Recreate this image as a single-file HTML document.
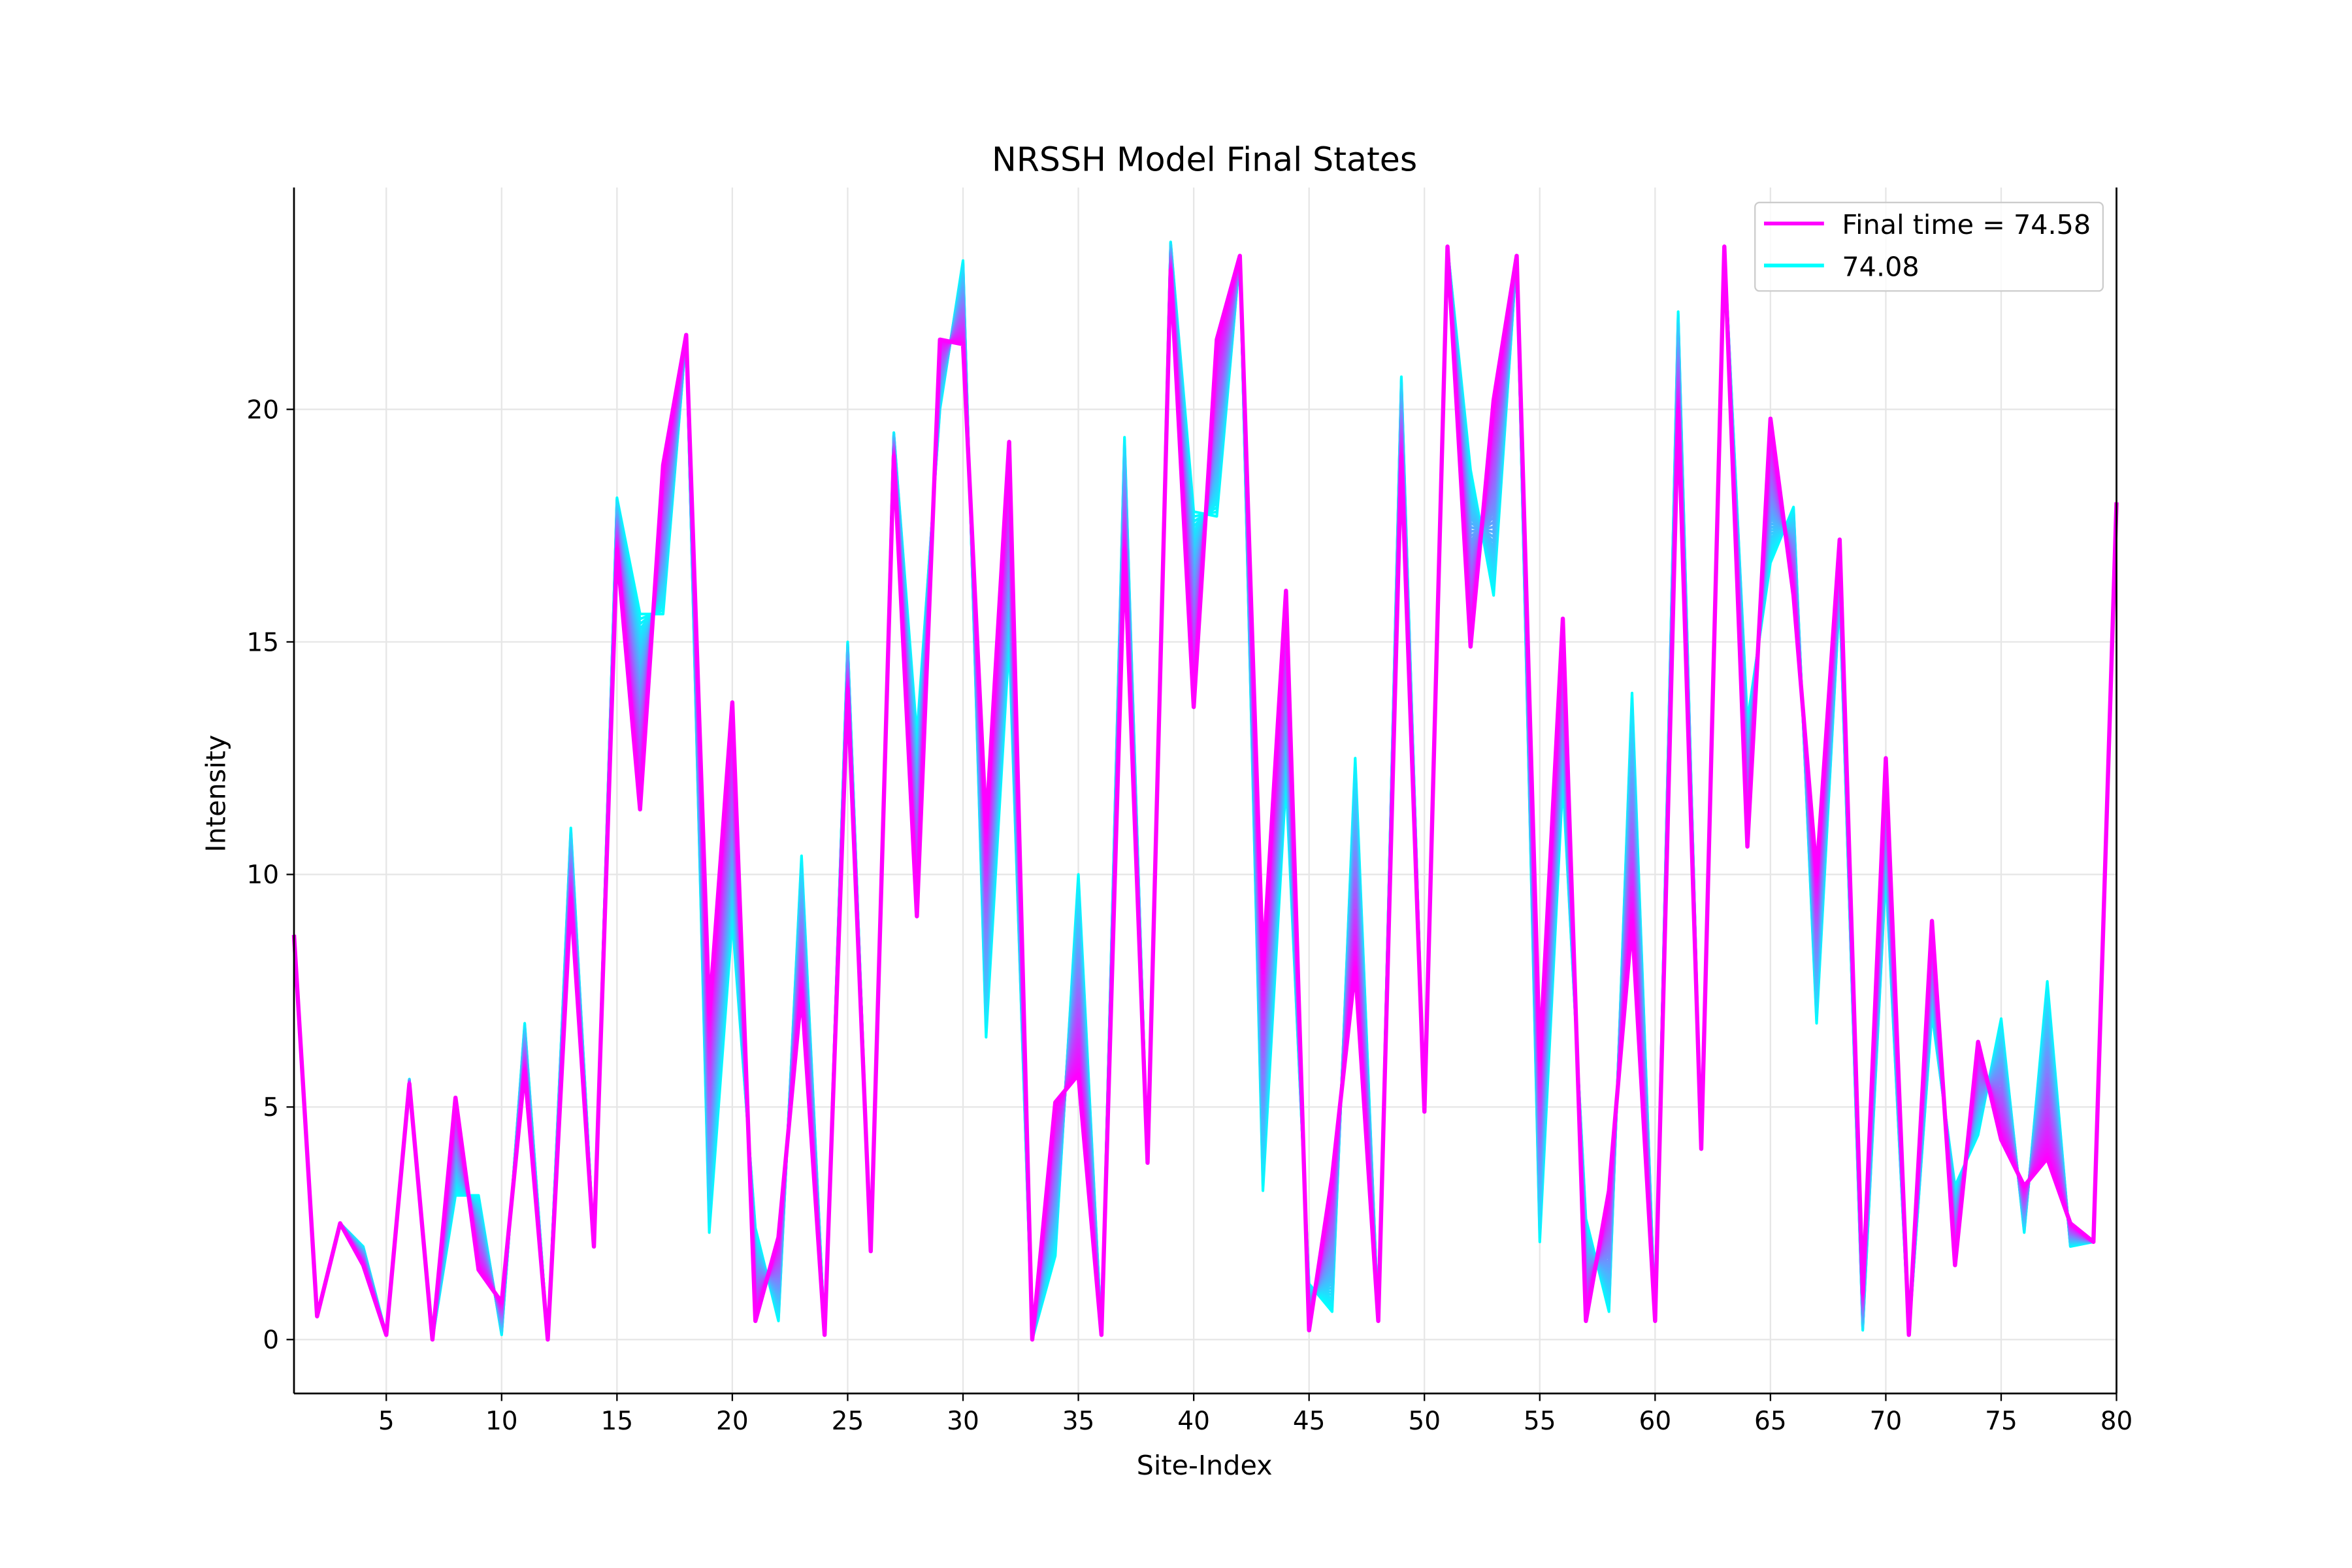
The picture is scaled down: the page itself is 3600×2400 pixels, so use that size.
<!DOCTYPE html>
<html><head><meta charset="utf-8"><style>
html,body{margin:0;padding:0;background:#fff;}
svg{display:block;font-family:"DejaVu Sans","Liberation Sans",sans-serif;}
</style></head><body>
<svg id="chart" width="3600" height="2400" viewBox="0 0 1568 1045.33" preserveAspectRatio="none" xmlns="http://www.w3.org/2000/svg">
<rect x="0" y="0" width="1568" height="1046" fill="#fff"/>
<g id="grid"></g>
<g id="series"></g>
<g id="axes"></g>
<text x="803" y="114" font-size="22" text-anchor="middle">NRSSH Model Final States</text>
<text x="803" y="983" font-size="18" text-anchor="middle">Site-Index</text>
<text x="150" y="529" font-size="18" text-anchor="middle" transform="rotate(-90 150 529)">Intensity</text>
<g>
<rect x="1170" y="135" width="232" height="59" rx="3" fill="#fff" fill-opacity="0.8" stroke="#ccc" stroke-width="1"/>
<line x1="1176" y1="149" x2="1216" y2="149" stroke="#ff00ff" stroke-width="2.5"/>
<text x="1228" y="156" font-size="18">Final time = 74.58</text>
<line x1="1176" y1="177" x2="1216" y2="177" stroke="#00ffff" stroke-width="2.5"/>
<text x="1228" y="184" font-size="18">74.08</text>
</g>
</svg>
<script>
const finalValues=[8.7,0.5,2.5,1.6,0.1,5.5,0.0,5.2,1.5,0.8,5.8,0.0,9.5,2.0,17.0,11.4,18.8,21.6,7.0,13.7,0.4,2.2,7.5,0.1,14.0,1.9,19.0,9.1,21.5,21.4,11.0,19.3,0.0,5.1,5.7,0.1,17.0,3.8,23.0,13.6,21.5,23.3,8.0,16.1,0.2,3.5,8.0,0.4,19.0,4.9,23.5,14.9,20.2,23.3,6.0,15.5,0.4,3.2,9.0,0.4,20.0,4.1,23.5,10.6,19.8,16.0,10.0,17.2,1.0,12.5,0.1,9.0,1.6,6.4,4.3,3.3,3.9,2.5,2.1,18.0];
const earlierValues=[8.7,0.5,2.5,2.0,0.1,5.6,0.0,3.1,3.1,0.1,6.8,0.0,11.0,2.0,18.1,15.6,15.6,21.6,2.3,9.0,2.4,0.4,10.4,0.1,15.0,1.9,19.5,13.0,20.0,23.2,6.5,15.0,0.0,1.8,10.0,0.1,19.4,3.8,23.6,17.8,17.7,23.3,3.2,12.0,1.2,0.6,12.5,0.4,20.7,4.9,23.5,18.7,16.0,23.3,2.1,12.0,2.6,0.6,13.9,0.4,22.1,4.1,23.5,13.3,16.7,17.9,6.8,16.0,0.2,10.0,0.1,7.0,3.3,4.4,6.9,2.3,7.7,2.0,2.1,18.0];
const xTicks=[5,10,15,20,25,30,35,40,45,50,55,60,65,70,75,80];
const yTicks=[0,5,10,15,20];
const L=196,R=1411,T=125,B=929,xMin=1,xMax=80,yMin=-1.16,yMax=24.77;
const X=v=>L+(v-xMin)/(xMax-xMin)*(R-L);
const Y=v=>B-(v-yMin)/(yMax-yMin)*(B-T);
const NS="http://www.w3.org/2000/svg";
function mk(tag,attrs,parent){const e=document.createElementNS(NS,tag);for(const k in attrs)e.setAttribute(k,attrs[k]);parent.appendChild(e);return e;}
const grid=document.getElementById('grid'),axes=document.getElementById('axes'),series=document.getElementById('series');
xTicks.forEach(t=>{
  const g=mk('line',{x1:X(t),x2:X(t),y1:T,y2:B,stroke:'#e6e6e6','stroke-width':1},grid);
  
  
  mk('line',{x1:X(t),x2:X(t),y1:B,y2:B+5,stroke:'#000','stroke-width':1},axes);
  const tx=mk('text',{x:X(t),y:B+24,'font-size':17,'text-anchor':'middle'},axes);tx.textContent=t;
  
  
});
yTicks.forEach(t=>{
  const g=mk('line',{x1:L,x2:R,y1:Y(t),y2:Y(t),stroke:'#e6e6e6','stroke-width':1},grid);
  
  
  mk('line',{x1:L-5,x2:L,y1:Y(t),y2:Y(t),stroke:'#000','stroke-width':1},axes);
  const tx=mk('text',{x:L-10,y:Y(t)+6,'font-size':17,'text-anchor':'end'},axes);tx.textContent=t;
  
  
});
mk('line',{x1:L,x2:L,y1:T,y2:B,stroke:'#000','stroke-width':1.2},axes);
mk('line',{x1:R,x2:R,y1:T,y2:B,stroke:'#000','stroke-width':1.2},axes);
mk('line',{x1:L,x2:R,y1:B,y2:B,stroke:'#000','stroke-width':1.2},axes);
// transition states drawn from earlier (cyan) to final (magenta)
const steps=40;
for(let s=0;s<=steps;s++){
  const f=s/steps;
  const pts=finalValues.map((v,i)=>{const val=earlierValues[i]+(v-earlierValues[i])*f;return X(i+1)+','+Y(val);}).join(' ');
  const r=Math.round(255*f),g=Math.round(255*(1-f));
  const p=mk('polyline',{points:pts,fill:'none',stroke:`rgb(${r},${g},255)`,'stroke-width':s===steps?2.8:1.8,'stroke-linejoin':'round'},series);
  
  
}
</script>
</body></html>
